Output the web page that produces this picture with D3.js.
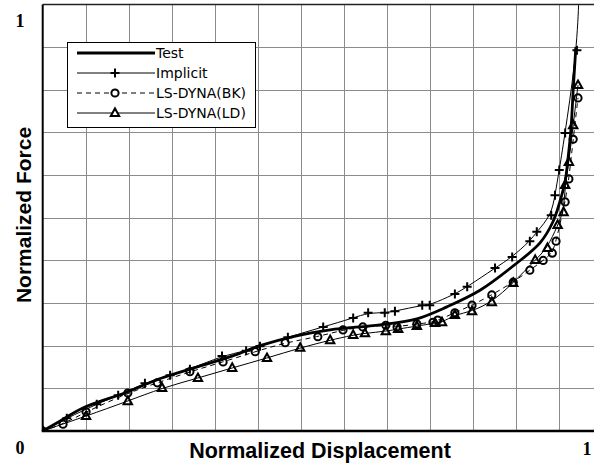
<!DOCTYPE html>
<html>
<head>
<meta charset="utf-8">
<script src="https://cdn.jsdelivr.net/npm/d3@7"></script>
<style>
  body { margin: 0; background: #fff; }
  svg { display: block; }
</style>
</head>
<body>
<svg id="chart" width="594" height="463"></svg>
<script>
// normalized [displacement, force] pairs
const testData = [
  [0, 0], [0.032, 0.023], [0.075, 0.054], [0.157, 0.091], [0.213, 0.120],
  [0.275, 0.145], [0.355, 0.176], [0.406, 0.200], [0.470, 0.222], [0.537, 0.237],
  [0.630, 0.249], [0.699, 0.263], [0.755, 0.291], [0.817, 0.330], [0.879, 0.387],
  [0.929, 0.441], [0.953, 0.490], [0.966, 0.537], [0.976, 0.586], [0.981, 0.635],
  [0.987, 0.710], [0.991, 0.799], [0.996, 0.900]
];
const implicitData = [
  [0, 0], [0.045, 0.030], [0.101, 0.063], [0.141, 0.084], [0.191, 0.112],
  [0.238, 0.131], [0.275, 0.145], [0.335, 0.176], [0.380, 0.188], [0.406, 0.199],
  [0.458, 0.220], [0.524, 0.244], [0.580, 0.265], [0.608, 0.277], [0.639, 0.277],
  [0.658, 0.281], [0.709, 0.295], [0.723, 0.295], [0.770, 0.321], [0.793, 0.338],
  [0.845, 0.382], [0.877, 0.408], [0.910, 0.445], [0.923, 0.467], [0.950, 0.506],
  [0.957, 0.553], [0.965, 0.612], [0.976, 0.699], [0.998, 0.893], [1.002, 1.03]
];
const bkData = [
  [0, 0], [0.038, 0.016], [0.081, 0.045], [0.159, 0.089], [0.214, 0.113],
  [0.275, 0.139], [0.337, 0.162], [0.397, 0.186], [0.453, 0.207], [0.514, 0.221],
  [0.561, 0.237], [0.598, 0.244], [0.641, 0.248], [0.662, 0.244], [0.699, 0.251],
  [0.729, 0.255], [0.738, 0.260], [0.770, 0.277], [0.802, 0.295], [0.839, 0.319],
  [0.879, 0.349], [0.910, 0.377], [0.935, 0.400], [0.952, 0.417], [0.959, 0.445],
  [0.976, 0.537], [0.983, 0.591], [0.991, 0.684], [1.000, 0.781]
];
const ldData = [
  [0, 0], [0.081, 0.035], [0.159, 0.070], [0.223, 0.101], [0.290, 0.124],
  [0.354, 0.148], [0.419, 0.171], [0.481, 0.195], [0.537, 0.213], [0.580, 0.225],
  [0.602, 0.229], [0.641, 0.234], [0.664, 0.239], [0.699, 0.246], [0.733, 0.253],
  [0.746, 0.255], [0.770, 0.272], [0.802, 0.281], [0.839, 0.302], [0.879, 0.347],
  [0.920, 0.401], [0.943, 0.429], [0.962, 0.483], [0.973, 0.513], [0.976, 0.577],
  [0.983, 0.631], [0.991, 0.717], [1.000, 0.811]
];
const legendNames = ["Test", "Implicit", "LS-DYNA(BK)", "LS-DYNA(LD)"];
const xGridStep = 0.0803;
const yGridStep = 0.1;

const svg = d3.select("#chart");
const margin = {top: 4.5, left: 42.7};
const xEnd = 578, yEnd = 431;

const x = d3.scaleLinear().domain([0, 1]).range([margin.left, xEnd]);
const y = d3.scaleLinear().domain([0, 1]).range([yEnd, margin.top]);

svg.append("clipPath").attr("id", "plotclip")
  .append("rect")
  .attr("x", margin.left).attr("y", margin.top)
  .attr("width", 594 - margin.left).attr("height", yEnd - margin.top);

// grid
const grid = svg.append("g").attr("stroke", "#8c8c8c").attr("stroke-width", 1);
grid.selectAll(".gx")
  .data(d3.range(1, 13).map(i => i * xGridStep))
  .enter().append("line")
  .attr("x1", d => Math.round(x(d)) + 0.5).attr("x2", d => Math.round(x(d)) + 0.5)
  .attr("y1", margin.top).attr("y2", yEnd);
grid.selectAll(".gy")
  .data(d3.range(1, 10).map(i => i * yGridStep))
  .enter().append("line")
  .attr("x1", margin.left).attr("x2", 594)
  .attr("y1", d => Math.round(y(d)) + 0.5).attr("y2", d => Math.round(y(d)) + 0.5);

// frame
svg.append("line").attr("x1", margin.left).attr("x2", 594)
  .attr("y1", margin.top).attr("y2", margin.top)
  .attr("stroke", "#222").attr("stroke-width", 1.5);
svg.append("line").attr("x1", margin.left).attr("x2", margin.left)
  .attr("y1", margin.top).attr("y2", yEnd)
  .attr("stroke", "#000").attr("stroke-width", 2);
svg.append("line").attr("x1", margin.left - 1).attr("x2", 594)
  .attr("y1", yEnd).attr("y2", yEnd)
  .attr("stroke", "#000").attr("stroke-width", 2.5);

const plot = svg.append("g").attr("clip-path", "url(#plotclip)");

const smooth = d3.line().x(d => x(d[0])).y(d => y(d[1])).curve(d3.curveCatmullRom.alpha(0.5));
const soft = d3.line().x(d => x(d[0])).y(d => y(d[1])).curve(d3.curveBasis);

plot.append("path").datum(implicitData).attr("d", soft)
  .attr("fill", "none").attr("stroke", "#000").attr("stroke-width", 1);
plot.append("path").datum(bkData).attr("d", soft)
  .attr("fill", "none").attr("stroke", "#000").attr("stroke-width", 1)
  .attr("stroke-dasharray", "5,4");
plot.append("path").datum(ldData).attr("d", soft)
  .attr("fill", "none").attr("stroke", "#000").attr("stroke-width", 1);
plot.append("path").datum(testData).attr("d", smooth)
  .attr("fill", "none").attr("stroke", "#000").attr("stroke-width", 2.8);

const plusPath = "M-4.5,0H4.5M0,-4.5V4.5";
const triPath = "M0,-4.6L4.2,3L-4.2,3Z";

function drawMarkers(g, data, kind) {
  const sel = g.selectAll(null).data(data).enter();
  if (kind === "plus") {
    sel.append("path").attr("d", plusPath)
      .attr("transform", d => `translate(${x(d[0])},${y(d[1])})`)
      .attr("stroke", "#000").attr("stroke-width", 2).attr("fill", "none");
  } else if (kind === "circle") {
    sel.append("circle").attr("cx", d => x(d[0])).attr("cy", d => y(d[1])).attr("r", 3.6)
      .attr("stroke", "#000").attr("stroke-width", 2).attr("fill", "none");
  } else {
    sel.append("path").attr("d", triPath)
      .attr("transform", d => `translate(${x(d[0])},${y(d[1])})`)
      .attr("stroke", "#000").attr("stroke-width", 2).attr("fill", "none")
      .attr("stroke-linejoin", "miter");
  }
}
drawMarkers(plot, implicitData, "plus");
drawMarkers(plot, bkData, "circle");
drawMarkers(plot, ldData, "tri");

// legend
const legend = svg.append("g").attr("transform", "translate(67,42)");
legend.append("rect").attr("x", 0.5).attr("y", 0.5).attr("width", 188).attr("height", 85)
  .attr("fill", "#fff").attr("stroke", "#000").attr("stroke-width", 1);
const kinds = ["none", "plus", "circle", "tri"];
legendNames.forEach((name, i) => {
  const ly = 11 + i * 20;
  const row = legend.append("g").attr("transform", `translate(0,${ly})`);
  row.append("line").attr("x1", 10).attr("x2", 88).attr("y1", 0).attr("y2", 0)
    .attr("stroke", "#000").attr("stroke-width", i === 0 ? 2.8 : 1)
    .attr("stroke-dasharray", i === 2 ? "5,4" : null);
  const mk = row.append("g").attr("transform", "translate(48,0)");
  if (kinds[i] === "plus") mk.append("path").attr("d", plusPath).attr("stroke", "#000").attr("stroke-width", 2);
  if (kinds[i] === "circle") mk.append("circle").attr("r", 3.6).attr("fill", "#fff").attr("stroke", "#000").attr("stroke-width", 2);
  if (kinds[i] === "tri") mk.append("path").attr("d", triPath).attr("fill", "#fff").attr("stroke", "#000").attr("stroke-width", 2);
  row.append("text").attr("x", 89).attr("y", 5).text(name)
    .attr("font-family", "DejaVu Sans, sans-serif").attr("font-size", 14);
});

// labels
svg.append("text").attr("x", 20).attr("y", 27).attr("text-anchor", "middle")
  .attr("font-family", "Liberation Serif, Times New Roman, serif").attr("font-weight", "bold")
  .attr("font-size", 18).text("1");
svg.append("text").attr("x", 20).attr("y", 454).attr("text-anchor", "middle")
  .attr("font-family", "Liberation Serif, Times New Roman, serif").attr("font-weight", "bold")
  .attr("font-size", 18).text("0");
svg.append("text").attr("x", 587).attr("y", 455).attr("text-anchor", "middle")
  .attr("font-family", "Liberation Serif, Times New Roman, serif").attr("font-weight", "bold")
  .attr("font-size", 18).text("1");
svg.append("text").attr("x", 320).attr("y", 458).attr("text-anchor", "middle")
  .attr("font-family", "Liberation Sans, Arial, sans-serif").attr("font-weight", "bold")
  .attr("font-size", 21.5).text("Normalized Displacement");
svg.append("text").attr("transform", "translate(31,215) rotate(-90)").attr("text-anchor", "middle")
  .attr("font-family", "Liberation Sans, Arial, sans-serif").attr("font-weight", "bold")
  .attr("font-size", 21).text("Normalized Force");
</script>
</body>
</html>
